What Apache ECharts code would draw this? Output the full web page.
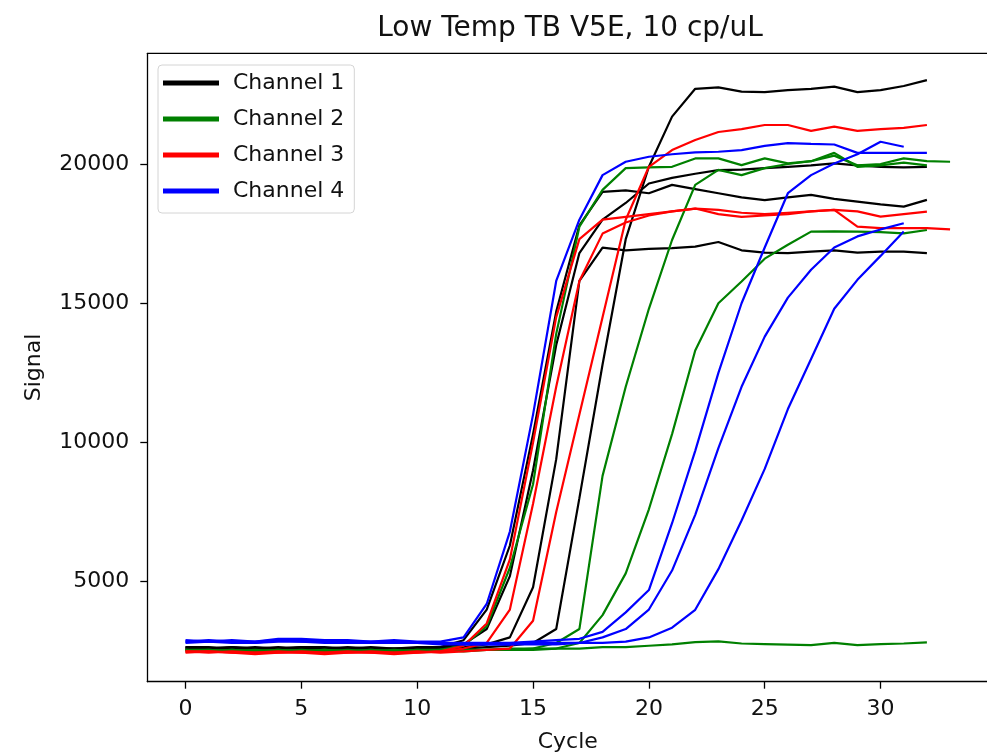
<!DOCTYPE html>
<html>
<head>
<meta charset="utf-8">
<script src="https://cdn.jsdelivr.net/npm/echarts@6/dist/echarts.min.js"></script>
<style>
  html, body { margin: 0; padding: 0; background: #ffffff; }
  #chart { width: 987px; height: 754px; }
</style>
</head>
<body>
<div id="chart"></div>
<script>
// Amplification curves: signal per cycle, one array per well.
const cycles = [0,1,2,3,4,5,6,7,8,9,10,11,12,13,14,15,16,17,18,19,20,21,22,23,24,25,26,27,28,29,30,31,32,33];

// Channel 1 (black)
const ch1_w1 = [2650,2600,2650,2600,2600,2650,2600,2600,2600,2550,2600,2650,2900,4000,6300,10300,14700,17800,19000,19050,18950,19250,19100,18950,18800,18700,18800,18890,18750,18650,18550,18470,18710];
const ch1_w2 = [2600,2550,2600,2550,2600,2600,2550,2600,2550,2600,2600,2600,2650,2750,3000,4800,9400,15800,17000,16900,16950,16980,17030,17200,16900,16820,16800,16850,16900,16820,16850,16850,16800];
const ch1_w3 = [2650,2650,2600,2650,2600,2650,2650,2600,2650,2600,2650,2650,2750,3300,5200,9000,13500,16800,18000,18600,19300,19500,19650,19780,19800,19850,19900,19950,20020,19950,19900,19880,19900];
const ch1_w4 = [2600,2600,2650,2600,2650,2600,2600,2650,2600,2600,2600,2600,2600,2650,2700,2800,3300,8000,12800,17300,19900,21700,22700,22750,22600,22580,22650,22700,22780,22580,22650,22800,23010];

// Channel 2 (green)
const ch2_w1 = [2550,2500,2550,2500,2500,2550,2500,2500,2500,2550,2500,2550,2700,3400,5500,8500,13900,17750,19070,19850,19880,19900,20200,20200,19960,20200,20020,20100,20300,19950,20000,20200,20100,20080];
const ch2_w2 = [2550,2550,2500,2550,2500,2500,2550,2500,2550,2500,2500,2550,2550,2550,2600,2600,2800,3300,8800,12000,14800,17270,19250,19790,19600,19850,20000,20100,20400,19900,19950,20050,19950];
const ch2_w3 = [2500,2550,2500,2500,2550,2500,2500,2550,2500,2500,2550,2500,2550,2550,2550,2600,2600,2800,3800,5300,7600,10300,13300,15000,15780,16600,17100,17570,17580,17570,17550,17510,17630];
const ch2_w4 = [2550,2500,2550,2500,2550,2500,2550,2500,2550,2500,2550,2550,2500,2550,2550,2550,2600,2600,2650,2650,2700,2750,2830,2860,2780,2760,2740,2720,2800,2720,2760,2780,2820];

// Channel 3 (red)
const ch3_w1 = [2450,2500,2450,2400,2450,2450,2400,2450,2450,2400,2450,2500,2700,3500,5800,10000,14500,17300,18000,18100,18200,18300,18400,18350,18250,18200,18250,18300,18350,17750,17700,17700,17700,17650];
const ch3_w2 = [2500,2450,2500,2450,2450,2500,2450,2450,2500,2450,2450,2500,2600,2800,4000,7800,12000,15800,17500,17900,18150,18300,18400,18200,18100,18150,18200,18300,18350,18300,18110,18200,18290];
const ch3_w3 = [2500,2500,2450,2450,2500,2450,2450,2500,2450,2450,2500,2450,2500,2550,2600,3600,7500,11000,14500,18000,19900,20500,20860,21150,21250,21400,21400,21190,21340,21190,21250,21300,21400];

// Channel 4 (blue)
const ch4_w1 = [2900,2850,2900,2850,2950,2950,2900,2900,2850,2900,2850,2850,3000,4200,6800,11000,15800,18000,19600,20080,20260,20350,20420,20440,20500,20650,20750,20720,20700,20400,20400,20400,20400];
const ch4_w2 = [2850,2900,2850,2850,2900,2900,2850,2850,2850,2850,2800,2800,2800,2800,2800,2850,2900,2950,3200,3900,4700,7100,9700,12500,15000,17000,18950,19600,20020,20350,20800,20620];
const ch4_w3 = [2800,2850,2850,2800,2850,2850,2800,2800,2800,2800,2800,2750,2750,2750,2750,2800,2800,2800,3000,3300,4000,5400,7400,9800,12000,13800,15200,16200,17000,17400,17650,17870];
const ch4_w4 = [2850,2850,2800,2800,2900,2850,2850,2850,2800,2800,2800,2800,2750,2750,2750,2750,2750,2800,2800,2850,3000,3350,3990,5450,7200,9050,11200,13000,14800,15840,16700,17580];

const channelNames = ['Channel 1', 'Channel 2', 'Channel 3', 'Channel 4'];
const channelColors = ['#000000', '#008000', '#ff0000', '#0000ff'];
const channelWells = [
  [ch1_w1, ch1_w2, ch1_w3, ch1_w4],
  [ch2_w1, ch2_w2, ch2_w3, ch2_w4],
  [ch3_w1, ch3_w2, ch3_w3],
  [ch4_w1, ch4_w2, ch4_w3, ch4_w4]
];

const xTicks = [0, 5, 10, 15, 20, 25, 30];
const yTicks = [5000, 10000, 15000, 20000];

const FONT = 'DejaVu Sans';

const series = [];
channelWells.forEach((wells, ci) => {
  wells.forEach((vals) => {
    series.push({
      name: channelNames[ci],
      type: 'line',
      color: channelColors[ci],
      showSymbol: false,
      lineStyle: { width: 2.2, color: channelColors[ci] },
      data: vals.map((v, i) => [cycles[i], v])
    });
  });
});

const chart = echarts.init(document.getElementById('chart'), null, { renderer: 'canvas' });
chart.setOption({
  animation: false,
  title: {
    text: 'Low Temp TB V5E, 10 cp/uL',
    left: 570,
    top: 15,
    textAlign: 'center',
    padding: 0,
    textStyle: { fontFamily: FONT, fontSize: 28, fontWeight: 'normal', color: '#111' }
  },
  legend: {
    data: channelNames,
    orient: 'vertical',
    left: 158,
    top: 65,
    padding: [5, 10, 9, 5],
    itemGap: 10,
    itemWidth: 56,
    itemHeight: 5,
    icon: 'rect',
    backgroundColor: 'rgba(255,255,255,0.85)',
    borderColor: '#d4d4d4',
    borderWidth: 1,
    borderRadius: 4,
    textStyle: { fontFamily: FONT, fontSize: 22, color: '#111', lineHeight: 26, padding: [0, 0, 0, 9] }
  },
  grid: { show: false, left: 147.3, top: 53.3, width: 841, height: 628.4, outerBoundsMode: 'none' },
  xAxis: {
    type: 'value',
    min: -1.65,
    max: 34.65,
    name: 'Cycle',
    nameLocation: 'middle',
    nameGap: 50,
    nameTextStyle: { fontFamily: FONT, fontSize: 22, color: '#111' },
    axisLine: { show: true, onZero: false, lineStyle: { color: '#000', width: 1.3 } },
    axisTick: { show: true, length: 7, customValues: xTicks, lineStyle: { color: '#000', width: 1.3 } },
    axisLabel: { customValues: xTicks, margin: 17, fontFamily: FONT, fontSize: 22, color: '#111',
                 formatter: (v) => String(v) },
    splitLine: { show: false }
  },
  yAxis: {
    type: 'value',
    min: 1409,
    max: 23975,
    name: 'Signal',
    nameLocation: 'middle',
    nameGap: 102,
    nameTextStyle: { fontFamily: FONT, fontSize: 22, color: '#111' },
    axisLine: { show: true, onZero: false, lineStyle: { color: '#000', width: 1.3 } },
    axisTick: { show: true, length: 7, customValues: yTicks, lineStyle: { color: '#000', width: 1.3 } },
    axisLabel: { customValues: yTicks, margin: 18, fontFamily: FONT, fontSize: 22, color: '#111',
                 formatter: (v) => String(v) },
    splitLine: { show: false }
  },
  graphic: [{
    type: 'line',
    shape: { x1: 147.3, y1: 53.3, x2: 988.3, y2: 53.3 },
    style: { stroke: '#000', lineWidth: 1.3 }
  }],
  series: series
});
</script>
</body>
</html>
